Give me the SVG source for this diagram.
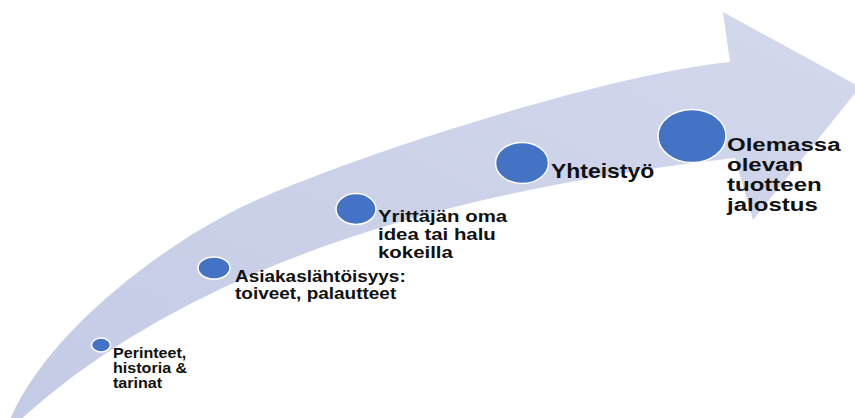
<svg xmlns="http://www.w3.org/2000/svg" width="855" height="418" viewBox="0 0 855 418">
<defs>
<linearGradient id="band" x1="0" y1="1" x2="1" y2="0">
<stop offset="0" stop-color="#C4CBE5"/>
<stop offset="1" stop-color="#D3D8EC"/>
</linearGradient>
<style>
.dot{fill:#4472C4;stroke:#FFFFFF;stroke-width:1.5}
.lbl{font-family:"Liberation Sans",Arial,sans-serif;font-weight:bold;fill:#111111}
</style>
</defs>
<rect x="0" y="0" width="855" height="418" fill="#FFFFFF"/>
<g id="arrow">
<path d="M 10,420 C 45,335 160,245 250,203 C 340,161 600,75 730,62 L 723,12 L 860,87 L 753,220 L 735,158 Q 248,212 20,420 Z" fill="url(#band)"/>
</g>
<g id="connectors"></g>
<g id="node1">
<ellipse class="dot" cx="101" cy="345" rx="9.5" ry="7"/>
<text class="lbl" font-size="14" transform="translate(113,0) scale(1.15,1)"><tspan x="0" y="358.5">Perinteet,</tspan><tspan x="0" y="373.5">historia &amp;</tspan><tspan x="0" y="388.5">tarinat</tspan></text>
</g>
<g id="node2">
<ellipse class="dot" cx="214" cy="268" rx="16" ry="11"/>
<text class="lbl" font-size="16.5" transform="translate(235,0) scale(1.15,1)"><tspan x="0" y="282">Asiakaslähtöisyys:</tspan><tspan x="0" y="299.5">toiveet, palautteet</tspan></text>
</g>
<g id="node3">
<ellipse class="dot" cx="356" cy="209" rx="20" ry="15.5"/>
<text class="lbl" font-size="17" transform="translate(378,0) scale(1.2,1)"><tspan x="0" y="222.5">Yrittäjän oma</tspan><tspan x="0" y="240.5">idea tai halu</tspan><tspan x="0" y="258.5">kokeilla</tspan></text>
</g>
<g id="node4">
<ellipse class="dot" cx="522" cy="163" rx="26.5" ry="20.5"/>
<text class="lbl" font-size="20.5" transform="translate(551,0) scale(1.12,1)"><tspan x="0" y="178">Yhteistyö</tspan></text>
</g>
<g id="node5">
<ellipse class="dot" cx="692" cy="136" rx="34" ry="26.5"/>
<text class="lbl" font-size="18.5" transform="translate(727,0) scale(1.3,1)"><tspan x="0" y="151">Olemassa</tspan><tspan x="0" y="171">olevan</tspan><tspan x="0" y="191">tuotteen</tspan><tspan x="0" y="211">jalostus</tspan></text>
</g>
</svg>
